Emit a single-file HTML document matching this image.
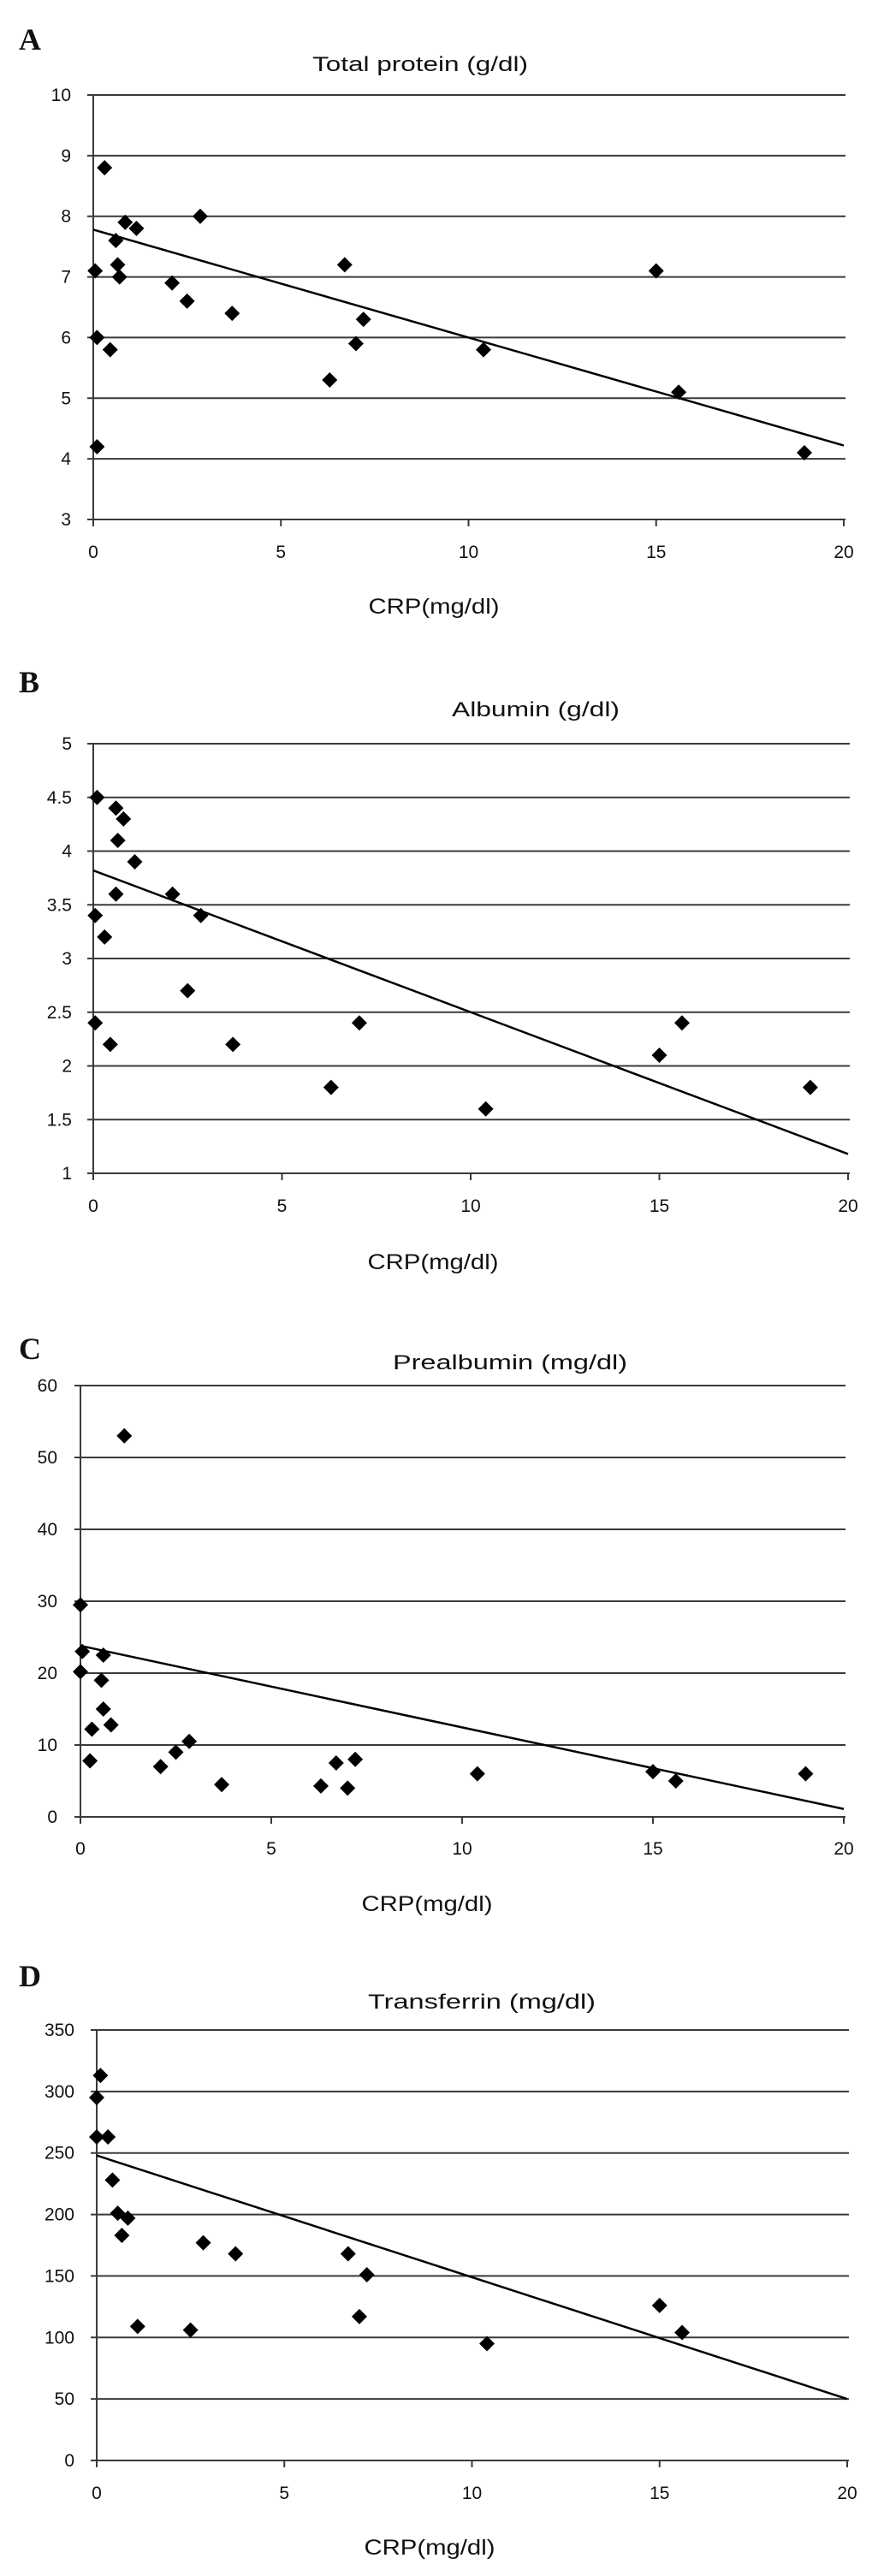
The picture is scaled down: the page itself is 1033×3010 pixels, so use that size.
<!DOCTYPE html>
<html><head><meta charset="utf-8"><style>
html,body{margin:0;padding:0;background:#fff;}
svg{display:block;}
text{font-family:"Liberation Sans",sans-serif;fill:#111;}
.panel{font-family:"Liberation Serif",serif;font-weight:bold;font-size:36px;}
</style></head><body>
<svg id="fig" width="1033" height="3010" viewBox="0 0 1033 3010" xmlns="http://www.w3.org/2000/svg"></svg>
<script>
const xTicks = [0, 5, 10, 15, 20];
// Panel A
const aTitle = "Total protein (g/dl)";
const aTicks = [3, 4, 5, 6, 7, 8, 9, 10];
const aX = [0.05,0.3,0.1,0.1,0.6,0.65,0.7,0.85,1.15,0.45,2.1,2.5,2.85,3.7,6.3,6.7,7.0,7.2,10.4,15,15.6,18.95];
const aY = [7.1,8.8,6.0,4.2,7.6,7.2,7.0,7.9,7.8,5.8,6.9,6.6,8.0,6.4,5.3,7.2,5.9,6.3,5.8,7.1,5.1,4.1];
const aTrend = [7.78, 4.22];
// Panel B
const bTitle = "Albumin (g/dl)";
const bTicks = [1, 1.5, 2, 2.5, 3, 3.5, 4, 4.5, 5];
const bX = [0.1,0.6,0.8,0.65,1.1,0.6,0.05,0.3,2.1,2.85,2.5,0.05,0.45,3.7,6.3,7.05,10.4,15,15.6,19];
const bY = [4.5,4.4,4.3,4.1,3.9,3.6,3.4,3.2,3.6,3.4,2.7,2.4,2.2,2.2,1.8,2.4,1.6,2.1,2.4,1.8];
const bTrend = [3.82, 1.18];
// Panel C
const cTitle = "Prealbumin (mg/dl)";
const cTicks = [0, 10, 20, 30, 40, 50, 60];
const cX = [0,0.05,0,0.6,0.55,0.6,0.3,0.8,0.25,1.15,2.1,2.5,2.85,3.7,6.3,6.7,7.0,7.2,10.4,15,15.6,19];
const cY = [29.5,23,20.2,22.5,19,15,12.2,12.8,7.8,53,7,9,10.5,4.5,4.3,7.5,4,8,6,6.3,5,6];
const cTrend = [23.8, 1.1];
// Panel D
const dTitle = "Transferrin (mg/dl)";
const dTicks = [0, 50, 100, 150, 200, 250, 300, 350];
const dX = [0.1,0.0,0.0,0.3,0.42,0.56,0.83,0.67,1.09,2.5,2.84,3.7,6.7,7.2,7.0,10.4,15,15.6];
const dY = [313,295,263,263,228,201,197,183,109,106,177,168,168,151,117,95,126,104];
const dTrend = [248, 50];

const NS = "http://www.w3.org/2000/svg";
const svg = document.getElementById('fig');
function mk(tag, attrs, parent){
  const e = document.createElementNS(NS, tag);
  for (const k in attrs) e.setAttribute(k, attrs[k]);
  (parent||svg).appendChild(e);
  return e;
}
function chart(o){
  const g = mk('g', {});
  
  
  const ymin = o.ticks[0], ymax = o.ticks[o.ticks.length-1];
  const sx = v => o.x0 + (v - 0) / 20 * (o.x1 - o.x0);
  const sy = v => o.yb - (v - ymin) / (ymax - ymin) * (o.yb - o.yt);
  const lab = mk('text', {x:o.labX, y:o.labY, class:'panel'}, g);
  lab.textContent = o.letter;
  
  
  const t = mk('text', {x:o.titleX, y:o.titleY, 'text-anchor':'middle', 'font-size':24, textLength:o.titleW, lengthAdjust:'spacingAndGlyphs'}, g);
  t.textContent = o.title;
  
  
  o.ticks.forEach((v, i) => {
    const y = sy(v);
    const gl = mk('line', {x1:o.x0-7, x2:o.x1+2, y1:y, y2:y, stroke:'#3a3a3a', 'stroke-width': 2}, g);
    
    
    const tl = mk('text', {x:o.yLabR, y:y+7, 'text-anchor':'end', 'font-size':21}, g);
    tl.textContent = v;
    
    
  });
  const ax = mk('line', {x1:o.x0, x2:o.x0, y1:o.yt, y2:o.yb+7, stroke:'#3a3a3a', 'stroke-width': 2}, g);
  
  
  xTicks.forEach(v => {
    const x = sx(v);
    const tk = mk('line', {x1:x, x2:x, y1:o.yb, y2:o.yb+8, stroke:'#3a3a3a', 'stroke-width':2}, g);
    
    
    const tl = mk('text', {x:x, y:o.xTickY+7, 'text-anchor':'middle', 'font-size':21}, g);
    tl.textContent = v;
    
    
  });
  const xt = mk('text', {x:o.xTitleX, y:o.xTitleY+9, 'text-anchor':'middle', 'font-size':25, textLength:153, lengthAdjust:'spacingAndGlyphs'}, g);
  xt.textContent = 'CRP(mg/dl)';
  
  
  const tr = mk('line', {x1:sx(0), y1:sy(o.trend[0]), x2:sx(20), y2:sy(o.trend[1]), stroke:'#000', 'stroke-width':2.5}, g);
  
  
  o.xs.forEach((xv, i) => {
    const cx = sx(xv), cy = sy(o.ys[i]), r = 9;
    const p = mk('path', {d:`M${cx},${cy-r}L${cx+r},${cy}L${cx},${cy+r}L${cx-r},${cy}Z`, fill:'#000'}, g);
    
    
  });
}
chart({id:'total-protein', letter:'A', labX:22, labY:58, title:aTitle, titleX:491, titleY:83, titleW:252,
  ticks:aTicks, xs:aX, ys:aY, trend:aTrend, x0:109, x1:986, yt:111, yb:607, yLabR:83,
  xTickY:645, xTitleX:507, xTitleY:708});
chart({id:'albumin', letter:'B', labX:22, labY:809, title:bTitle, titleX:626, titleY:837, titleW:196,
  ticks:bTicks, xs:bX, ys:bY, trend:bTrend, x0:109, x1:991, yt:869, yb:1371, yLabR:84,
  xTickY:1409, xTitleX:506, xTitleY:1474});
chart({id:'prealbumin', letter:'C', labX:22, labY:1588, title:cTitle, titleX:596, titleY:1600, titleW:274,
  ticks:cTicks, xs:cX, ys:cY, trend:cTrend, x0:94, x1:986, yt:1619, yb:2123, yLabR:67,
  xTickY:2160, xTitleX:499, xTitleY:2224});
chart({id:'transferrin', letter:'D', labX:22, labY:2321, title:dTitle, titleX:563, titleY:2347, titleW:266,
  ticks:dTicks, xs:dX, ys:dY, trend:dTrend, x0:113, x1:990, yt:2372, yb:2875, yLabR:87,
  xTickY:2913, xTitleX:502, xTitleY:2976});
</script>
</body></html>
